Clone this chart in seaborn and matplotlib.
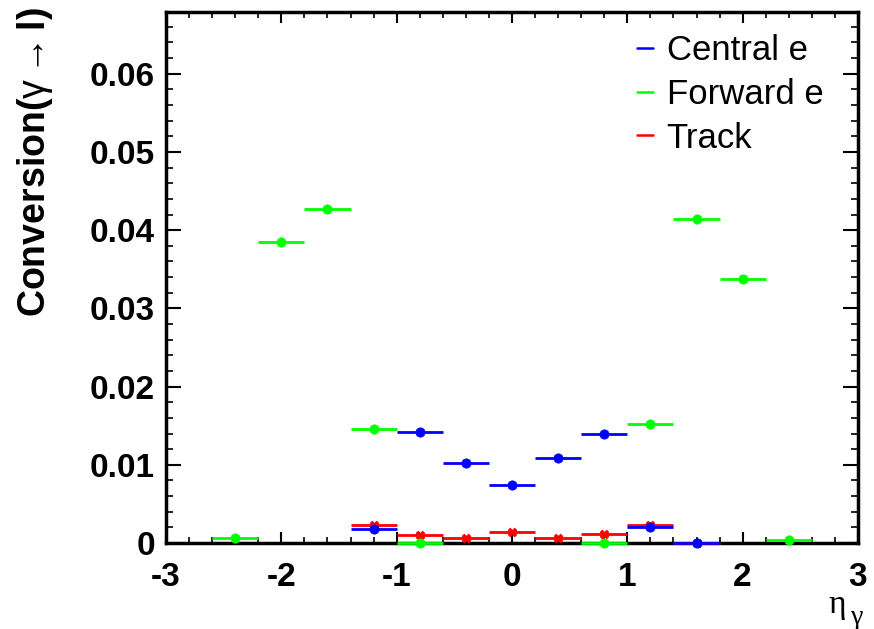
import numpy as np
import pandas as pd
import matplotlib
matplotlib.use("Agg")
import matplotlib.pyplot as plt
import seaborn as sns
from matplotlib.ticker import MultipleLocator

# ---- data ----
eta_bins = [-2.4, -2.0, -1.6, -1.2, -0.8, -0.4, 0.0, 0.4, 0.8, 1.2, 1.6, 2.0, 2.4]
forward_e = [0.0006, 0.0385, 0.0427, 0.0146, 0.0, np.nan, np.nan, np.nan, 0.0, 0.0152, 0.0414, 0.0338, 0.0004]
forward_err = [0.0002, 0.0005, 0.0004, 0.0003, 0.0, 0, 0, 0, 0.0, 0.0003, 0.0004, 0.0004, 0.0002]
central_eta = [-1.2, -0.8, -0.4, 0.0, 0.4, 0.8, 1.2, 1.6]
central_e = [0.0018, 0.0142, 0.0102, 0.0074, 0.0109, 0.0139, 0.0020, 0.0]
central_err = [0.0002, 0.0002, 0.0002, 0.0002, 0.0002, 0.0002, 0.0002, 0.0]
track_eta = [-1.2, -0.8, -0.4, 0.0, 0.4, 0.8, 1.2, 1.6]
track = [0.0023, 0.0010, 0.0006, 0.0014, 0.0006, 0.0012, 0.0023, 0.0]
track_err = [0.0002, 0.0002, 0.0002, 0.0002, 0.0002, 0.0002, 0.0002, 0.0]
bin_half_width = 0.2
series_names = ["Central e", "Forward e", "Track"]
series_colors = {"Central e": "#0000ff", "Forward e": "#00ff00", "Track": "#ff0000"}
series_markers = {"Central e": "o", "Forward e": "o", "Track": "X"}
ytick_vals = [0, 0.01, 0.02, 0.03, 0.04, 0.05, 0.06]
ytick_labels = ["0", "0.01", "0.02", "0.03", "0.04", "0.05", "0.06"]
xtick_vals = [-3, -2, -1, 0, 1, 2, 3]
xtick_labels = ["-3", "-2", "-1", "0", "1", "2", "3"]

frames = []
for name, xs, ys, es in [("Track", track_eta, track, track_err),
                         ("Central e", central_eta, central_e, central_err),
                         ("Forward e", eta_bins, forward_e, forward_err)]:
    frames.append(pd.DataFrame({"eta": xs, "conv": ys, "err": es, "series": name}))
df = pd.concat(frames, ignore_index=True).dropna()

sns.set_theme(style="ticks")
plt.rcParams["font.family"] = ["Liberation Sans", "DejaVu Sans"]
for k in ["text.color", "axes.labelcolor", "xtick.color", "ytick.color", "axes.edgecolor"]:
    plt.rcParams[k] = "black"
plt.rcParams["mathtext.fontset"] = "custom"
plt.rcParams["mathtext.rm"] = "Liberation Sans"
plt.rcParams["mathtext.bf"] = "Liberation Sans:bold"
plt.rcParams["mathtext.it"] = "Liberation Serif"

fig = plt.figure(figsize=(8.74, 6.29), dpi=100)
ax = fig.add_axes([166/874, 1-543/629, (858-166)/874, (543-12)/629])

for name in ["Track", "Central e", "Forward e"]:
    sub = df[df["series"] == name]
    ax.errorbar(sub["eta"], sub["conv"], xerr=bin_half_width, yerr=sub["err"],
                fmt="none", ecolor=series_colors[name], elinewidth=2.0,
                capsize=0, clip_on=False, zorder=3)
    sns.scatterplot(data=sub, x="eta", y="conv", ax=ax, color=series_colors[name],
                    marker=series_markers[name], s=45 if name != "Track" else 40,
                    edgecolor=series_colors[name], linewidth=0.5, clip_on=False,
                    zorder=4, legend=False)

ax.set_xlim(-3, 3)
ax.set_ylim(0, 0.0679)
ax.xaxis.set_minor_locator(MultipleLocator(0.2))
ax.yaxis.set_minor_locator(MultipleLocator(0.002))
ax.set_yticks(ytick_vals)
ax.set_yticklabels(ytick_labels)
ax.set_xticks(xtick_vals)
ax.set_xticklabels(xtick_labels)

ax.tick_params(which="both", direction="in", top=True, right=True, color="black",
               labelcolor="black")
ax.tick_params(which="major", axis="x", length=8, width=1.5, pad=14)
ax.tick_params(which="minor", axis="x", length=4, width=1.2)
ax.tick_params(which="major", axis="y", length=11, width=1.5, pad=8)
ax.tick_params(which="minor", axis="y", length=5, width=1.2)
for lab in ax.get_xticklabels() + ax.get_yticklabels():
    lab.set_fontsize(24)
    lab.set_fontweight("bold")
for sp in ax.spines.values():
    sp.set_linewidth(2.5)
    sp.set_color("black")

ax.set_xlabel("")
ax.set_ylabel(r"$\mathbf{Conversion(}\mathrm{\gamma} \rightarrow \mathbf{l)}$",
              fontsize=27, ha="right", color="black")
ax.yaxis.set_label_coords(-0.160, 1.008)

fig.text(846/874, 1-590/629, "η", fontsize=24, ha="right", va="top", color="black",
         family=["Liberation Serif", "DejaVu Serif"])
fig.text(863/874, 1-605/629, "γ", fontsize=20, ha="right", va="top", color="black",
         family=["Liberation Serif", "DejaVu Serif"])

handles = [plt.Line2D([], [], color=series_colors[n], lw=1.8) for n in series_names]
leg = ax.legend(handles, series_names, loc="upper left",
                bbox_to_anchor=(637/874, 1-34/629), bbox_transform=fig.transFigure,
                frameon=False, fontsize=25, handlelength=0.45, handletextpad=0.4,
                labelspacing=0.31, borderpad=0, borderaxespad=0)
for t in leg.get_texts():
    t.set_color("black")

fig.savefig("out.png", dpi=100, facecolor="white")
